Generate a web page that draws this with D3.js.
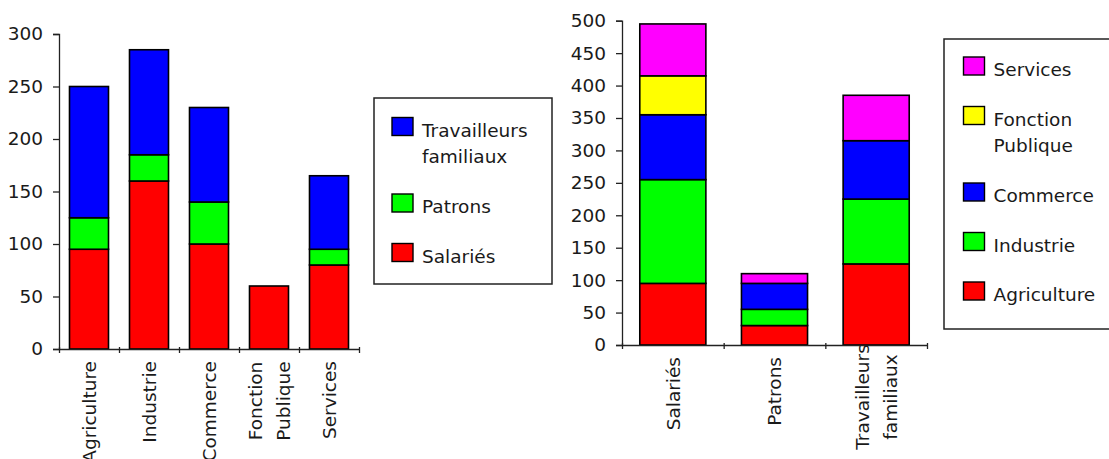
<!DOCTYPE html>
<html>
<head>
<meta charset="utf-8">
<script src="https://cdn.jsdelivr.net/npm/d3@7"></script>
<style>
  html, body { margin: 0; padding: 0; background: #fff; }
  svg { display: block; }
  text { font-family: "DejaVu Sans", sans-serif; font-size: 18.5px; fill: #1a1a1a; }
</style>
</head>
<body>
<svg id="chart" width="1109" height="459"></svg>
<script>
// ---- data ----
const sectors = ["Agriculture", "Industrie", "Commerce", "Fonction Publique", "Services"];
const sectorLabelLines = [["Agriculture"], ["Industrie"], ["Commerce"], ["Fonction", "Publique"], ["Services"]];
const statuses = ["Salariés", "Patrons", "Travailleurs familiaux"];
const statusLabelLines = [["Salariés"], ["Patrons"], ["Travailleurs", "familiaux"]];
const salaries = [95, 160, 100, 60, 80];
const patrons = [30, 25, 40, 0, 15];
const travailleurs = [125, 100, 90, 0, 70];
const leftTicks = [0, 50, 100, 150, 200, 250, 300];
const rightTicks = [0, 50, 100, 150, 200, 250, 300, 350, 400, 450, 500];
const statusColors = ["#ff0000", "#00ff00", "#0000ff"];
const sectorColors = ["#ff0000", "#00ff00", "#0000ff", "#ffff00", "#ff00ff"];

const svg = d3.select("#chart");
const axisColor = "#222";

// build tables
const byStatus = [salaries, patrons, travailleurs];
const leftRows = sectors.map((s, i) => {
  const r = { key: s };
  statuses.forEach((st, j) => r[st] = byStatus[j][i]);
  return r;
});
const rightRows = statuses.map((st, j) => {
  const r = { key: st };
  sectors.forEach((s, i) => r[s] = byStatus[j][i]);
  return r;
});

function drawChart(opts) {
  const { rows, keys, colors, cats, labelLines, ticks, x0, x1, yTop, yBottom, maxV } = opts;
  const g = svg.append("g");
  const x = d3.scaleBand().domain(cats).range([x0, x1]).paddingInner(0.35).paddingOuter(0.175);
  const y = d3.scaleLinear().domain([0, maxV]).range([yBottom, yTop]);
  const stack = d3.stack().keys(keys)(rows);

  // bars
  stack.forEach((layer, li) => {
    g.append("g").selectAll("rect")
      .data(layer.filter(d => d[1] - d[0] > 0))
      .join("rect")
      .attr("x", d => x(d.data.key))
      .attr("width", x.bandwidth())
      .attr("y", d => y(d[1]))
      .attr("height", d => y(d[0]) - y(d[1]))
      .attr("fill", colors[li])
      .attr("stroke", "#000")
      .attr("stroke-width", 1.6);
  });

  // y axis
  const ya = g.append("g").attr("transform", `translate(${x0},0)`)
    .call(d3.axisLeft(y).tickValues(ticks).tickSize(6).tickPadding(10).tickFormat(d3.format("d")));
  ya.select(".domain").attr("stroke", axisColor).attr("stroke-width", 1.3);
  ya.selectAll(".tick line").attr("stroke", axisColor).attr("stroke-width", 1.3);
  ya.selectAll(".tick text").attr("font-size", null).attr("font-family", null).attr("fill", "#1a1a1a");
  ya.attr("font-size", null).attr("font-family", null);

  // x axis with boundary ticks
  const xb = d3.scaleLinear().domain([0, cats.length]).range([x0, x1]);
  const xa = g.append("g").attr("transform", `translate(0,${yBottom})`)
    .call(d3.axisBottom(xb).tickValues(d3.range(cats.length + 1)).tickSize(6).tickSizeOuter(0).tickFormat(""));
  xa.select(".domain").attr("stroke", axisColor).attr("stroke-width", 1.3);
  xa.selectAll(".tick line").attr("stroke", axisColor).attr("stroke-width", 1.3).attr("y1", -2).attr("y2", 4);

  // x labels rotated
  const lbl = g.append("g");
  cats.forEach((c, i) => {
    const lines = labelLines[i];
    const cx = x(c) + x.bandwidth() / 2;
    const n = lines.length;
    lines.forEach((t, k) => {
      const lx = cx + (k - (n - 1) / 2) * 28;
      const ly = n === 1 ? yBottom + 12 : yBottom + 52;
      lbl.append("text")
        .attr("transform", `translate(${lx},${ly}) rotate(-90)`)
        .attr("text-anchor", n === 1 ? "end" : "middle")
        .attr("dy", "0.36em")
        .text(t);
    });
  });
}

function drawLegend(opts) {
  const { bx, by, bw, bh, items, colors, startY, swX } = opts;
  const g = svg.append("g");
  g.append("rect").attr("x", bx).attr("y", by).attr("width", bw).attr("height", bh)
    .attr("fill", "#fff").attr("stroke", "#222").attr("stroke-width", 1.5);
  let cy = startY;
  items.forEach((lines, i) => {
    g.append("rect").attr("x", swX).attr("y", cy).attr("width", 21).attr("height", 18)
      .attr("fill", colors[i]).attr("stroke", "#000").attr("stroke-width", 1.4);
    lines.forEach((t, k) => {
      g.append("text").attr("x", swX + 30).attr("y", cy + 19 + k * 26.5).text(t);
    });
    cy += lines.length * 27 + 22.5;
  });
}

drawChart({
  rows: leftRows, keys: statuses, colors: statusColors, cats: sectors, labelLines: sectorLabelLines,
  ticks: leftTicks, x0: 59, x1: 359, yTop: 34, yBottom: 349, maxV: 300
});
drawChart({
  rows: rightRows, keys: sectors, colors: sectorColors, cats: statuses, labelLines: statusLabelLines,
  ticks: rightTicks, x0: 622, x1: 927, yTop: 20.7, yBottom: 345, maxV: 500
});

drawLegend({
  bx: 374, by: 98, bw: 178, bh: 186, swX: 392, startY: 117.5,
  items: statusLabelLines.slice().reverse(), colors: statusColors.slice().reverse()
});
drawLegend({
  bx: 944, by: 39, bw: 180, bh: 290, swX: 963.5, startY: 57,
  items: [["Services"], ["Fonction", "Publique"], ["Commerce"], ["Industrie"], ["Agriculture"]],
  colors: sectorColors.slice().reverse()
});
</script>
</body>
</html>
